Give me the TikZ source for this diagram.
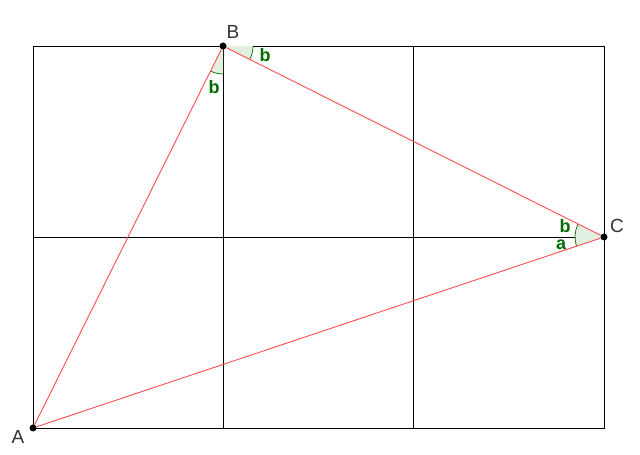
\documentclass[tikz,border=0pt]{standalone}
\usepackage{fontspec}
\setmainfont{Liberation Sans}
\definecolor{tri}{HTML}{FF4D4D}
\definecolor{angc}{HTML}{006B00}
\definecolor{angfill}{HTML}{E2F0E2}
\begin{document}
\begin{tikzpicture}[x=1pt,y=1pt,
  gridline/.style={black, line width=0.8pt},
  triline/.style={tri, line width=0.9pt},
  dot/.style={circle, fill=black, inner sep=0pt, minimum size=7pt},
  anglabel/.style={text=angc, inner sep=0pt, font=\bfseries\fontsize{18}{18}\selectfont},
  ptlabel/.style={text=black!80, inner sep=0pt, font=\fontsize{19}{19}\selectfont},
  angsector/.style={fill=angfill},
  angarc/.style={draw=angc, line width=0.7pt}]
\useasboundingbox (0,0) rectangle (640,455);
% grid
\draw[gridline] (33,27) rectangle (604,409);
\draw[gridline] (223,27) -- (223,409);
\draw[gridline] (413,27) -- (413,409);
\draw[gridline] (33,218) -- (604,218);
% points
\coordinate (pA) at (33,27);
\coordinate (pB) at (223,409);
\coordinate (pC) at (604,218);
% angle sectors
\fill[angsector] (pB) -- ++(0:30) arc (0:-26.62:30) -- cycle;
\draw[angarc] (pB) ++(0:30) arc (0:-26.62:30);
\fill[angsector] (pB) -- ++(-90:28) arc (-90:-116.44:28) -- cycle;
\draw[angarc] (pB) ++(-90:28) arc (-90:-116.44:28);
\fill[angsector] (pC) -- ++(153.38:29) arc (153.38:198.5:29) -- cycle;
\draw[angarc] (pC) ++(153.38:29) arc (153.38:198.5:29);
% triangle
\node[dot] (A) at (pA) {};
\node[dot] (B) at (pB) {};
\node[dot] (C) at (pC) {};
\draw[triline] (A) -- (B);
\draw[triline] (B) -- (C);
\draw[triline] (C) -- (A);
% labels
\node[ptlabel] (lA) at (18,18) {A};
\node[ptlabel] (lB) at (233,423) {B};
\node[ptlabel] (lC) at (617,229) {C};
\node[anglabel] (l1) at (265,400) {b};
\node[anglabel] (l2) at (214,368) {b};
\node[anglabel] (l3) at (565,229) {b};
\node[anglabel] (l4) at (561,210) {a};
\end{tikzpicture}
\end{document}
